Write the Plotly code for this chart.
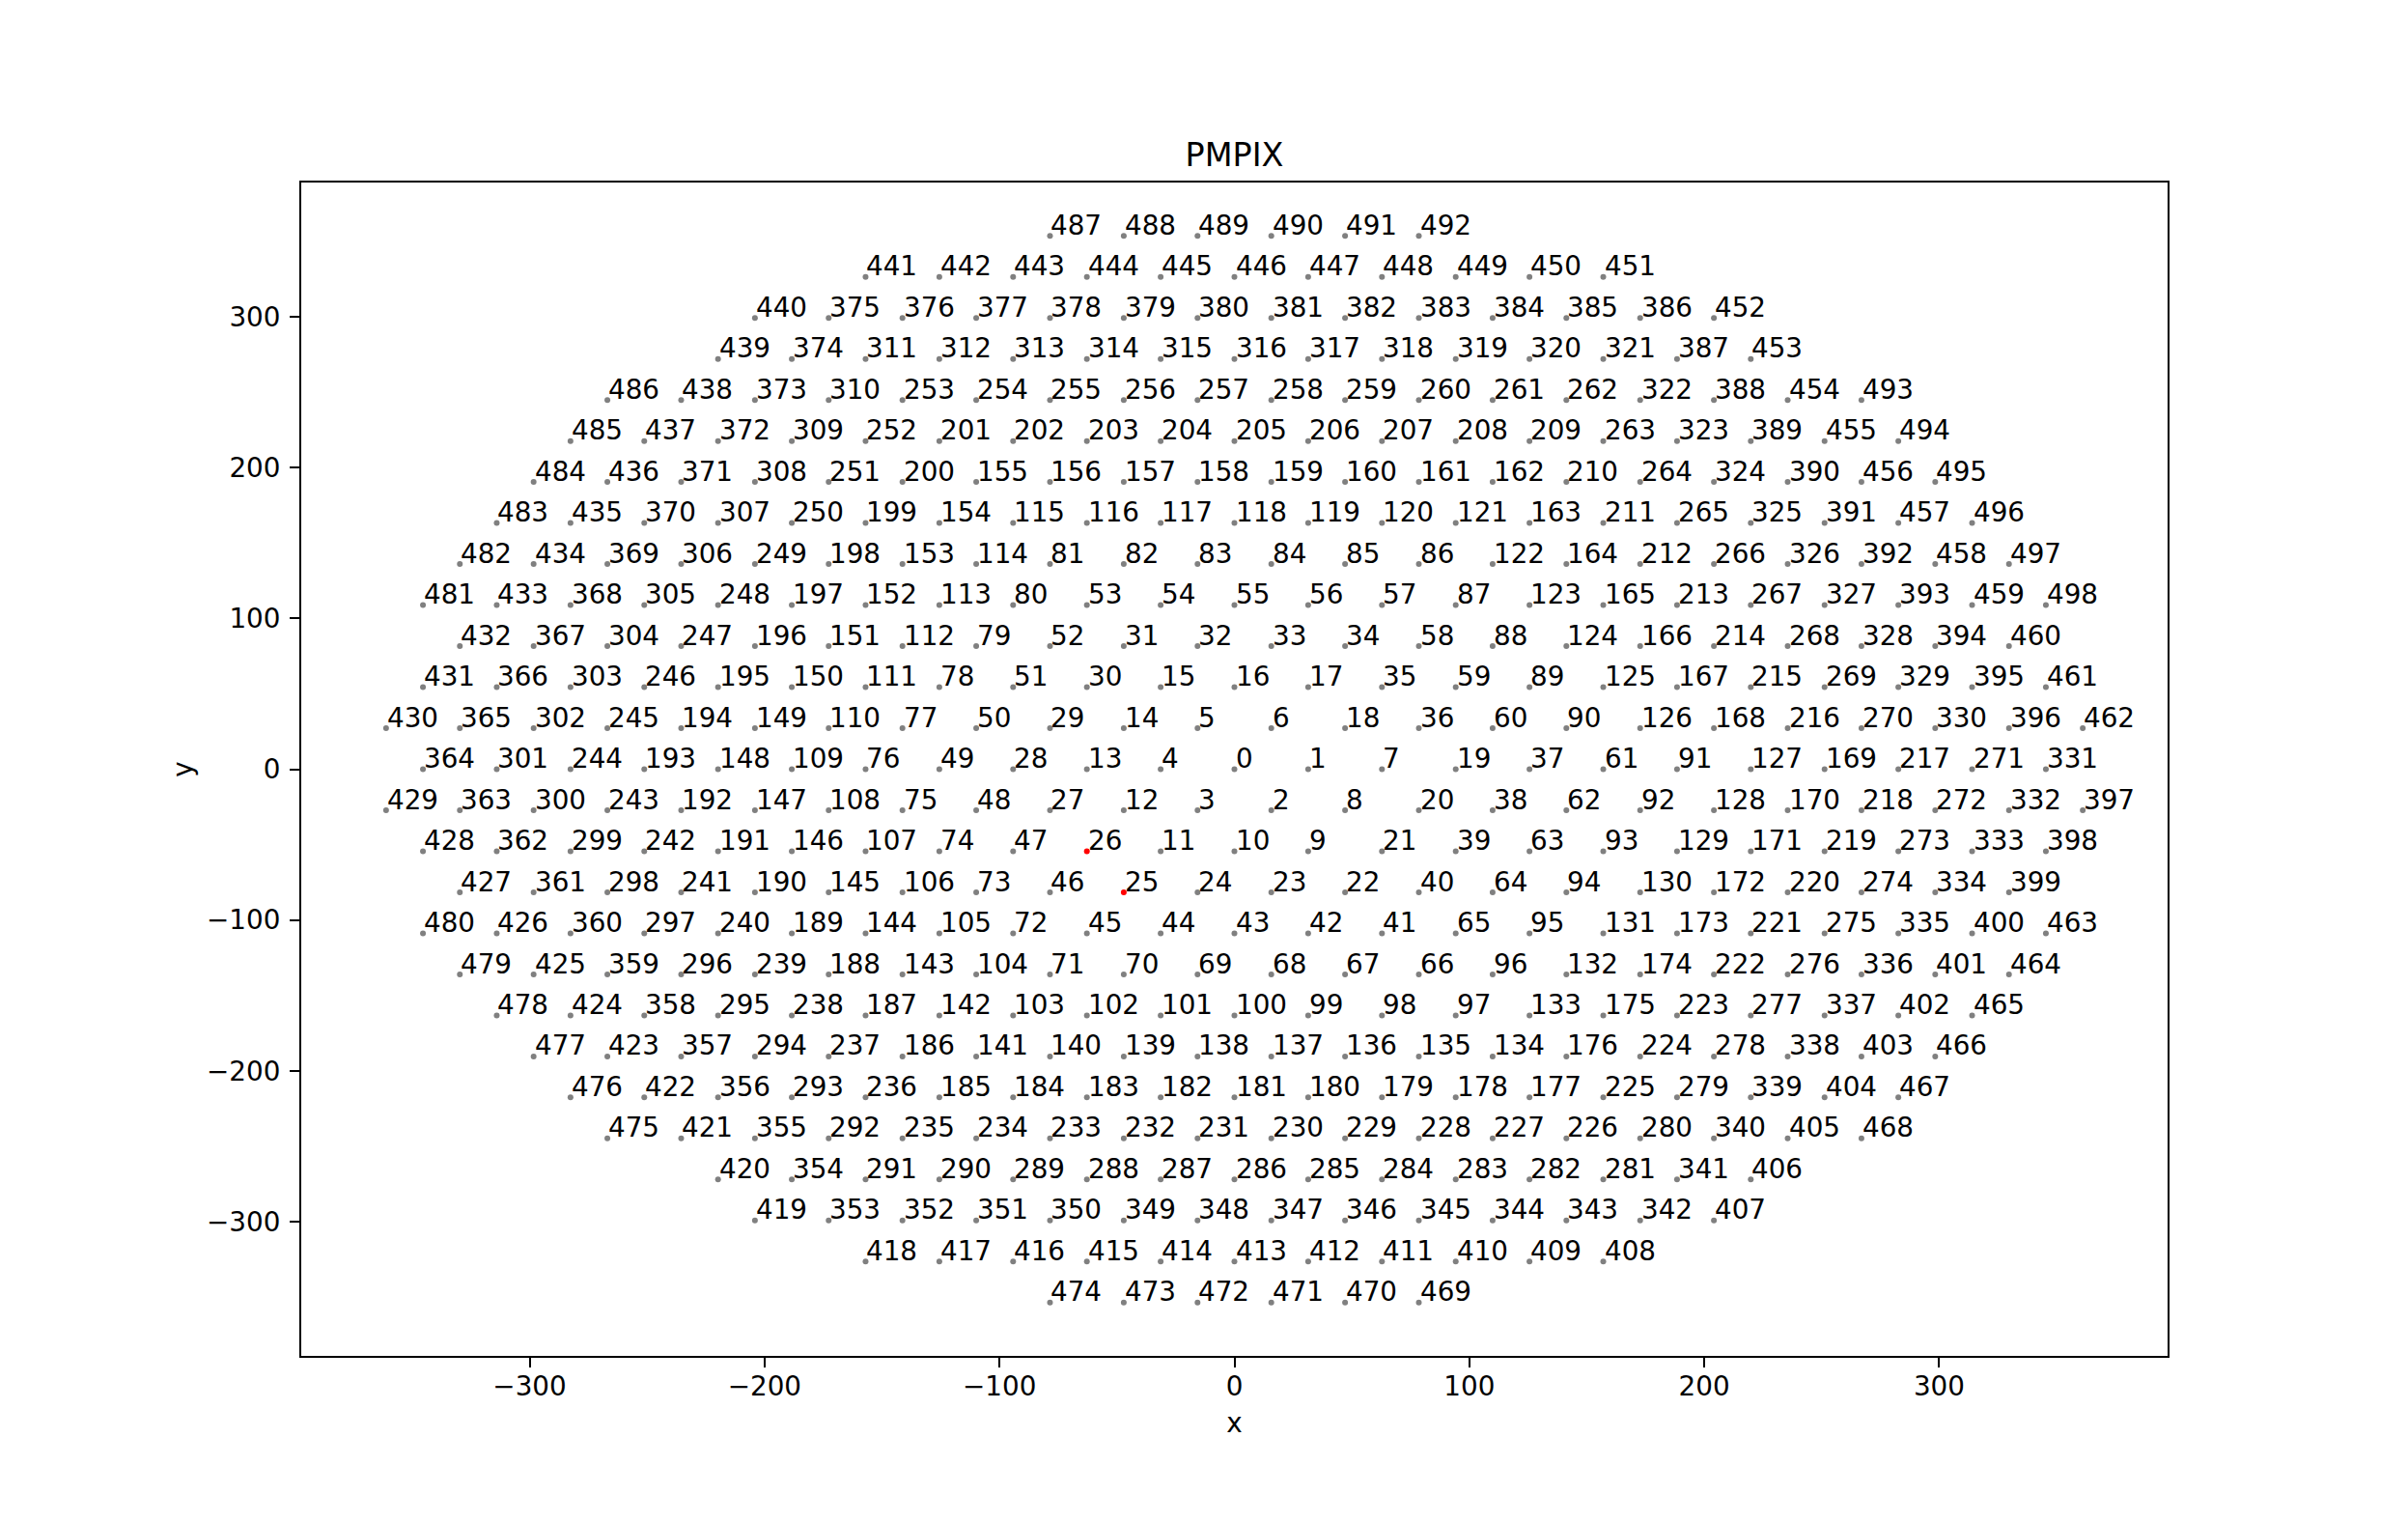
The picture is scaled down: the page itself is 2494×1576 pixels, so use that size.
import math
import plotly.graph_objects as go

# Hex pixel layout (PMPIX): pitch between neighbouring pixels, rows offset by half a pitch
PITCH = 31.4
ROW_STEP = PITCH * math.sqrt(3) / 2

# Row levels from top to bottom (in units of ROW_STEP)
ROW_LEVELS = list(range(13, -14, -1))

# First column of each row, in half-pitch units
ROW_START = [-5, -10, -13, -14, -17, -18, -19, -20, -21, -22, -21, -22, -23,
             -22,
             -23, -22, -21, -22, -21, -20, -19, -18, -17, -14, -13, -10, -5]

# Pixel ids, left to right, per row
ROW_LABELS = [
    [487, 488, 489, 490, 491, 492],
    [441, 442, 443, 444, 445, 446, 447, 448, 449, 450, 451],
    [440, 375, 376, 377, 378, 379, 380, 381, 382, 383, 384, 385, 386, 452],
    [439, 374, 311, 312, 313, 314, 315, 316, 317, 318, 319, 320, 321, 387, 453],
    [486, 438, 373, 310, 253, 254, 255, 256, 257, 258, 259, 260, 261, 262, 322, 388, 454, 493],
    [485, 437, 372, 309, 252, 201, 202, 203, 204, 205, 206, 207, 208, 209, 263, 323, 389, 455, 494],
    [484, 436, 371, 308, 251, 200, 155, 156, 157, 158, 159, 160, 161, 162, 210, 264, 324, 390, 456, 495],
    [483, 435, 370, 307, 250, 199, 154, 115, 116, 117, 118, 119, 120, 121, 163, 211, 265, 325, 391, 457, 496],
    [482, 434, 369, 306, 249, 198, 153, 114, 81, 82, 83, 84, 85, 86, 122, 164, 212, 266, 326, 392, 458, 497],
    [481, 433, 368, 305, 248, 197, 152, 113, 80, 53, 54, 55, 56, 57, 87, 123, 165, 213, 267, 327, 393, 459, 498],
    [432, 367, 304, 247, 196, 151, 112, 79, 52, 31, 32, 33, 34, 58, 88, 124, 166, 214, 268, 328, 394, 460],
    [431, 366, 303, 246, 195, 150, 111, 78, 51, 30, 15, 16, 17, 35, 59, 89, 125, 167, 215, 269, 329, 395, 461],
    [430, 365, 302, 245, 194, 149, 110, 77, 50, 29, 14, 5, 6, 18, 36, 60, 90, 126, 168, 216, 270, 330, 396, 462],
    [364, 301, 244, 193, 148, 109, 76, 49, 28, 13, 4, 0, 1, 7, 19, 37, 61, 91, 127, 169, 217, 271, 331],
    [429, 363, 300, 243, 192, 147, 108, 75, 48, 27, 12, 3, 2, 8, 20, 38, 62, 92, 128, 170, 218, 272, 332, 397],
    [428, 362, 299, 242, 191, 146, 107, 74, 47, 26, 11, 10, 9, 21, 39, 63, 93, 129, 171, 219, 273, 333, 398],
    [427, 361, 298, 241, 190, 145, 106, 73, 46, 25, 24, 23, 22, 40, 64, 94, 130, 172, 220, 274, 334, 399],
    [480, 426, 360, 297, 240, 189, 144, 105, 72, 45, 44, 43, 42, 41, 65, 95, 131, 173, 221, 275, 335, 400, 463],
    [479, 425, 359, 296, 239, 188, 143, 104, 71, 70, 69, 68, 67, 66, 96, 132, 174, 222, 276, 336, 401, 464],
    [478, 424, 358, 295, 238, 187, 142, 103, 102, 101, 100, 99, 98, 97, 133, 175, 223, 277, 337, 402, 465],
    [477, 423, 357, 294, 237, 186, 141, 140, 139, 138, 137, 136, 135, 134, 176, 224, 278, 338, 403, 466],
    [476, 422, 356, 293, 236, 185, 184, 183, 182, 181, 180, 179, 178, 177, 225, 279, 339, 404, 467],
    [475, 421, 355, 292, 235, 234, 233, 232, 231, 230, 229, 228, 227, 226, 280, 340, 405, 468],
    [420, 354, 291, 290, 289, 288, 287, 286, 285, 284, 283, 282, 281, 341, 406],
    [419, 353, 352, 351, 350, 349, 348, 347, 346, 345, 344, 343, 342, 407],
    [418, 417, 416, 415, 414, 413, 412, 411, 410, 409, 408],
    [474, 473, 472, 471, 470, 469],
]

# Highlighted pixels
RED_PIXELS = [25, 26]

X_TICKS = [-300, -200, -100, 0, 100, 200, 300]
Y_TICKS = [-300, -200, -100, 0, 100, 200, 300]

# ---- build point table from the grid description ----
ids, xs, ys = [], [], []
for level, start, labels in zip(ROW_LEVELS, ROW_START, ROW_LABELS):
    for k, pid in enumerate(labels):
        ids.append(pid)
        xs.append((start + 2 * k) * PITCH / 2)
        ys.append(level * ROW_STEP)

colors = ["#ff0000" if pid in RED_PIXELS else "#808080" for pid in ids]

FONT = "DejaVu Sans"
FS = 27.8

fig = go.Figure()
fig.add_trace(go.Scatter(
    x=xs, y=ys, mode="markers",
    marker=dict(size=6, color=colors, line=dict(width=0)),
    text=[str(p) for p in ids], hoverinfo="text", showlegend=False,
))

annotations = []
for pid, x, y in zip(ids, xs, ys):
    annotations.append(dict(
        x=x, y=y, xref="x", yref="y", text=str(pid), showarrow=False,
        xanchor="left", yanchor="bottom", xshift=-1, yshift=-7.6,
        font=dict(family=FONT, size=FS, color="black"),
    ))


def padded(vals):
    lo, hi = min(vals), max(vals)
    m = 0.05 * (hi - lo)
    return [lo - m, hi + m]


axis_common = dict(
    showgrid=False, zeroline=False, showline=True, mirror=True,
    linecolor="black", linewidth=2, ticks="outside", ticklen=10, tickwidth=2,
    tickcolor="black", tickfont=dict(family=FONT, size=FS, color="black"),
)

fig.update_layout(
    width=2494, height=1576,
    margin=dict(l=312, r=249, t=189, b=172),
    paper_bgcolor="white", plot_bgcolor="white",
    title=dict(text="PMPIX", x=0.5, xref="paper", xanchor="center",
               y=1 - 160 / 1576, yref="container", yanchor="middle",
               font=dict(family=FONT, size=33.4, color="black")),
    xaxis=dict(range=padded(xs), tickvals=X_TICKS, ticklabelstandoff=-4,
               title=dict(text="x", standoff=12,
                          font=dict(family=FONT, size=FS, color="black")),
               **axis_common),
    yaxis=dict(range=padded(ys), tickvals=Y_TICKS, ticklabelstandoff=4,
               title=dict(text="y", standoff=6,
                          font=dict(family=FONT, size=FS, color="black")),
               **axis_common),
    annotations=annotations,
    font=dict(family=FONT, size=FS, color="black"),
)

fig.write_html("out.html")
